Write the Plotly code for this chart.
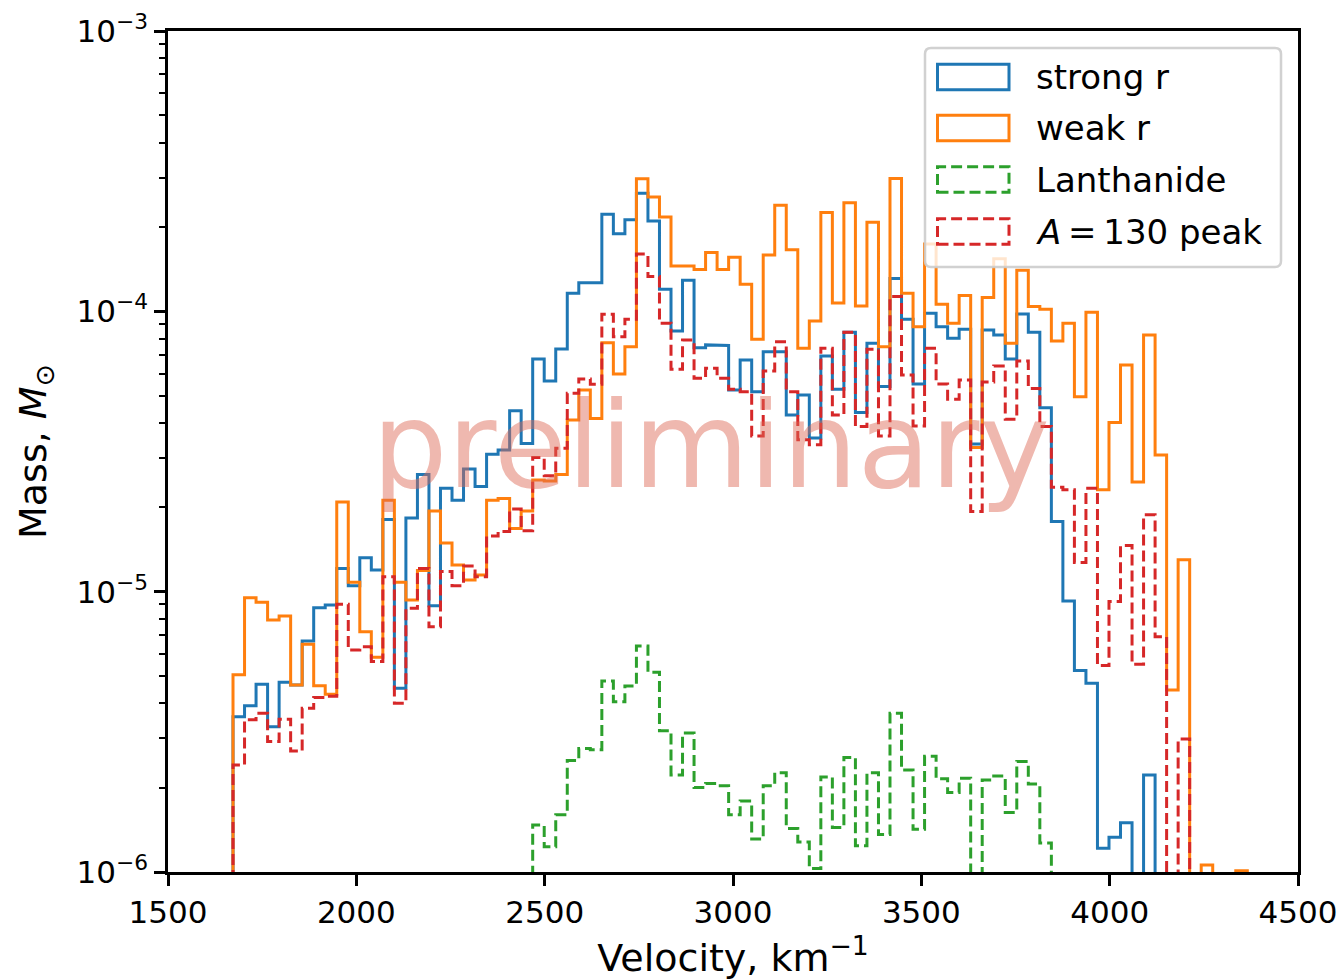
import numpy as np
import plotly.graph_objects as go

# ---------------- data ----------------
bin_start = 1672.6      # km^-1 (as labelled)
bin_width = 30.6
n_bins = 88

weak_r = [5.05e-6, 9.52e-6, 9.17e-6, 7.93e-6, 8.19e-6, 4.65e-6, 6.49e-6, 4.62e-6, 4.31e-6, 2.09e-5,
          1.08e-5, 7.20e-6, 5.83e-6, 2.12e-5, 1.08e-5, 9.34e-6, 1.19e-5, 1.94e-5, 1.49e-5, 1.245e-5,
          1.10e-5, 1.147e-5, 2.12e-5, 2.15e-5, 1.68e-5, 1.94e-5, 2.50e-5, 2.48e-5, 2.62e-5, 4.10e-5,
          5.24e-5, 4.15e-5, 7.73e-5, 5.98e-5, 7.48e-5, 2.97e-4, 2.56e-4, 2.17e-4, 1.45e-4, 1.45e-4,
          1.41e-4, 1.62e-4, 1.41e-4, 1.56e-4, 1.25e-4, 7.95e-5, 1.59e-4, 2.39e-4, 1.66e-4, 7.38e-5,
          9.24e-5, 2.25e-4, 1.07e-4, 2.44e-4, 1.045e-4, 2.08e-4, 7.48e-5, 2.98e-4, 1.16e-4, 8.81e-5,
          1.74e-4, 1.06e-4, 9.07e-5, 1.14e-4, 3.27e-5, 1.12e-4, 1.54e-4, 7.69e-5, 1.40e-4, 1.04e-4,
          1.017e-4, 7.84e-5, 9.07e-5, 4.96e-5, 9.92e-5, 2.31e-5, 4.01e-5, 6.44e-5, 2.46e-5, 8.23e-5,
          3.07e-5, 4.46e-6, 1.30e-5, 0, 1.06e-6, 0, 0, 1.01e-6]

strong_r = [3.58e-6, 3.92e-6, 4.67e-6, 3.30e-6, 4.75e-6, 4.65e-6, 6.67e-6, 8.77e-6, 8.96e-6, 1.21e-5,
            1.05e-5, 1.32e-5, 1.195e-5, 1.81e-5, 4.52e-6, 1.83e-5, 2.62e-5, 8.91e-6, 2.34e-5, 2.12e-5,
            2.74e-5, 2.37e-5, 3.09e-5, 3.20e-5, 4.42e-5, 3.38e-5, 6.76e-5, 5.64e-5, 7.34e-5, 1.16e-4,
            1.265e-4, 1.265e-4, 2.22e-4, 1.89e-4, 2.12e-4, 2.64e-4, 2.10e-4, 1.20e-4, 8.51e-5, 1.29e-4,
            7.42e-5, 7.59e-5, 7.55e-5, 5.24e-5, 6.71e-5, 5.17e-5, 7.18e-5, 7.18e-5, 4.27e-5, 5.03e-5,
            3.53e-5, 6.93e-5, 5.27e-5, 8.42e-5, 4.36e-5, 7.69e-5, 5.39e-5, 1.31e-4, 9.37e-5, 5.51e-5,
            9.85e-5, 8.81e-5, 8.01e-5, 8.63e-5, 3.36e-5, 8.58e-5, 8.23e-5, 6.76e-5, 9.78e-5, 8.42e-5,
            4.53e-5, 1.78e-5, 9.26e-6, 5.23e-6, 4.71e-6, 1.215e-6, 1.33e-6, 1.50e-6, 0, 2.22e-6,
            0, 0, 0, 0, 0, 0, 0, 0]

lanthanide = [0, 0, 0, 0, 0, 0, 0, 0, 0, 0,
              0, 0, 0, 0, 0, 0, 0, 0, 0, 0,
              0, 0, 0, 0, 0, 0, 1.47e-6, 1.23e-6, 1.60e-6, 2.50e-6,
              2.76e-6, 2.73e-6, 4.80e-6, 4.05e-6, 4.61e-6, 6.40e-6, 5.16e-6, 3.19e-6, 2.22e-6, 3.13e-6,
              2.00e-6, 2.07e-6, 2.03e-6, 1.60e-6, 1.79e-6, 1.31e-6, 2.03e-6, 2.26e-6, 1.43e-6, 1.28e-6,
              1.03e-6, 2.18e-6, 1.44e-6, 2.56e-6, 1.24e-6, 2.26e-6, 1.36e-6, 3.68e-6, 2.31e-6, 1.42e-6,
              2.59e-6, 2.15e-6, 1.92e-6, 2.16e-6, 0, 2.13e-6, 2.20e-6, 1.63e-6, 2.48e-6, 2.06e-6,
              1.27e-6, 0, 0, 0, 0, 0, 0, 0, 0, 0,
              0, 0, 0, 0, 0, 0, 0, 0]

a130_peak = [2.41e-6, 3.49e-6, 3.68e-6, 2.92e-6, 3.51e-6, 2.70e-6, 3.84e-6, 4.19e-6, 4.24e-6, 9.02e-6,
             6.19e-6, 6.36e-6, 5.63e-6, 1.13e-5, 4.00e-6, 8.73e-6, 1.21e-5, 7.50e-6, 1.18e-5, 1.05e-5,
             1.235e-5, 1.13e-5, 1.58e-5, 1.64e-5, 1.97e-5, 1.65e-5, 3.01e-5, 2.59e-5, 3.25e-5, 5.10e-5,
             5.74e-5, 5.49e-5, 9.76e-5, 8.12e-5, 9.37e-5, 1.60e-4, 1.33e-4, 9.07e-5, 6.21e-5, 7.90e-5,
             5.77e-5, 6.26e-5, 5.77e-5, 5.27e-5, 5.17e-5, 3.59e-5, 6.13e-5, 7.79e-5, 5.17e-5, 3.48e-5,
             3.34e-5, 7.38e-5, 4.27e-5, 8.42e-5, 3.88e-5, 7.32e-5, 3.59e-5, 1.13e-4, 5.93e-5, 3.90e-5,
             7.38e-5, 5.51e-5, 4.86e-5, 5.69e-5, 1.93e-5, 5.60e-5, 6.38e-5, 4.12e-5, 6.65e-5, 5.31e-5,
             3.88e-5, 2.36e-5, 2.31e-5, 1.27e-5, 2.34e-5, 5.45e-6, 9.23e-6, 1.46e-5, 5.51e-6, 1.88e-5,
             6.91e-6, 0, 2.98e-6, 0, 0, 0, 0, 0]

series_names = ["strong r", "weak r", "Lanthanide", "<i>A</i>\u2009=\u2009130 peak"]
x_ticks = [1500, 2000, 2500, 3000, 3500, 4000, 4500]
y_ticks = [1e-6, 1e-5, 1e-4, 1e-3]
y_ticktext = ["10<sup>\u22126</sup>", "10<sup>\u22125</sup>", "10<sup>\u22124</sup>", "10<sup>\u22123</sup>"]

# ---------------- styles ----------------
FONT = "DejaVu Sans"
colors = ["#1f77b4", "#ff7f0e", "#2ca02c", "#d62728"]
dashes = ["solid", "solid", "11px,5px", "11px,5px"]
LW = 3.0

edges = bin_start + bin_width * np.arange(n_bins + 1)
FLOOR = 1e-9  # empty bins drop below the log axis (clipped), like matplotlib


def step_xy(vals):
    v = np.asarray(vals, dtype=float)
    v = np.where(v > 0, v, FLOOR)
    xs = [edges[0]]
    ys = [FLOOR]
    for i in range(len(v)):
        xs += [edges[i], edges[i + 1]]
        ys += [v[i], v[i]]
    xs.append(edges[-1])
    ys.append(FLOOR)
    return xs, ys


fig = go.Figure()
for vals, name, col, dash in zip([strong_r, weak_r, lanthanide, a130_peak], series_names, colors, dashes):
    xs, ys = step_xy(vals)
    fig.add_trace(go.Scatter(x=xs, y=ys, mode="lines", name=name,
                             line=dict(color=col, width=LW, dash=dash),
                             showlegend=False, hoverinfo="skip"))

# ---------------- layout ----------------
W, H = 1342, 980
ML, MR, MT, MB = 168, 44, 31, 108
PW, PH = W - ML - MR, H - MT - MB


def px_x(p):
    return (p - ML) / PW


def px_y(p):
    return (H - MB - p) / PH


fig.update_layout(
    width=W, height=H,
    margin=dict(l=ML, r=MR, t=MT, b=MB, autoexpand=False),
    plot_bgcolor="white", paper_bgcolor="white",
    font=dict(family=FONT, color="black", size=31),
    showlegend=False,
)

fig.update_xaxes(
    range=[1500, 4500], tickvals=x_ticks, ticktext=[str(t) for t in x_ticks],
    ticks="outside", ticklen=11, tickwidth=2.5, tickcolor="black",
    showline=True, linewidth=2.5, linecolor="black", mirror=True,
    showgrid=False, zeroline=False,
    tickfont=dict(family=FONT, size=31, color="black"),
    title=dict(text="Velocity, km<sup>\u22121</sup>", font=dict(family=FONT, size=38, color="black"),
               standoff=7),
)
fig.update_yaxes(
    type="log", range=[-6, -3], tickvals=y_ticks, ticktext=y_ticktext,
    ticks="outside", ticklen=11, tickwidth=2.5, tickcolor="black",
    showline=True, linewidth=2.5, linecolor="black", mirror=True,
    showgrid=False, zeroline=False,
    tickfont=dict(family=FONT, size=31, color="black"),
    minor=dict(ticks="outside", ticklen=6, tickwidth=1.9, tickcolor="black",
               tickvals=[m * 10.0 ** e for e in (-6, -5, -4) for m in range(2, 10)],
               showgrid=False),
    title=dict(text="Mass, <i>M</i><sub>\u2299</sub>", font=dict(family=FONT, size=38, color="black"),
               standoff=19),
)

# watermark
fig.add_annotation(text="preliminary", xref="paper", yref="paper",
                   x=px_x(711), y=px_y(446), xanchor="center", yanchor="middle",
                   showarrow=False,
                   font=dict(family=FONT, size=119, color="rgba(222,105,85,0.47)"))

# ---------------- custom legend (matplotlib-style patches) ----------------
lx0, lx1, ly0, ly1 = px_x(925), px_x(1281), px_y(267), px_y(48)
rx, ry = 6 / PW, 6 / PH
path = (f"M {lx0+rx},{ly0} L {lx1-rx},{ly0} Q {lx1},{ly0} {lx1},{ly0+ry} "
        f"L {lx1},{ly1-ry} Q {lx1},{ly1} {lx1-rx},{ly1} L {lx0+rx},{ly1} "
        f"Q {lx0},{ly1} {lx0},{ly1-ry} L {lx0},{ly0+ry} Q {lx0},{ly0} {lx0+rx},{ly0} Z")
fig.add_shape(type="path", path=path, xref="paper", yref="paper", layer="above",
              fillcolor="rgba(255,255,255,0.8)", line=dict(color="rgba(204,204,204,0.9)", width=2.5))

row_centres = [77, 128, 179.5, 231.5]
for name, col, dash, yc in zip(series_names, colors, dashes, row_centres):
    fig.add_shape(type="rect", xref="paper", yref="paper", layer="above",
                  x0=px_x(937.5), x1=px_x(1009), y0=px_y(yc + 12.8), y1=px_y(yc - 12.8),
                  line=dict(color=col, width=LW, dash=dash), fillcolor="rgba(0,0,0,0)")
    fig.add_annotation(text=name, xref="paper", yref="paper", x=px_x(1034), y=px_y(yc),
                       xanchor="left", yanchor="middle", showarrow=False,
                       font=dict(family=FONT, size=34, color="black"))

fig.write_html("out.html")
